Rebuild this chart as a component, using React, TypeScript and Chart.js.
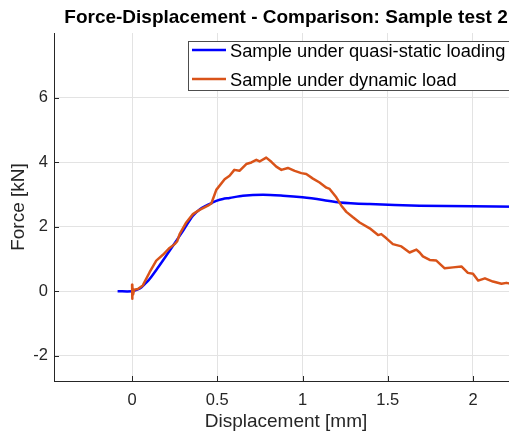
import React, { useEffect, useRef } from "react";
import { Chart, registerables } from "chart.js";

Chart.register(...registerables);

const titleText = "Force-Displacement - Comparison: Sample test 2";
const seriesNames = ["Sample under quasi-static loading", "Sample under dynamic load"];
const seriesColors = ["#0000FF", "#D95319"];
const xLabel = "Displacement [mm]";
const yLabel = "Force [kN]";

const xTicks = [0, 0.5, 1, 1.5, 2];
const yTicks = [-2, 0, 2, 4, 6];
const xLimits = [-0.458, 2.264];
const yLimits = [-2.78, 8];

const quasiX = [-0.085, 0, 0.03, 0.054, 0.08, 0.103, 0.15, 0.2, 0.24, 0.3, 0.357, 0.4, 0.435, 0.47, 0.494, 0.533, 0.572, 0.65, 0.768, 0.885, 1.0, 1.12, 1.218, 1.394, 1.687, 2.0, 2.27];
const quasiY = [0, 0, 0.05, 0.12, 0.25, 0.38, 0.72, 1.1, 1.41, 1.88, 2.34, 2.55, 2.65, 2.74, 2.8, 2.86, 2.89, 2.96, 2.99, 2.96, 2.91, 2.83, 2.75, 2.7, 2.65, 2.63, 2.62];

const dynX = [0, 0.0, 0.003, 0.006, 0.012, 0.034, 0.063, 0.103, 0.142, 0.181, 0.22, 0.25, 0.265, 0.279, 0.318, 0.357, 0.396, 0.445, 0.465, 0.494, 0.543, 0.572, 0.6, 0.63, 0.67, 0.7, 0.729, 0.748, 0.787, 0.817, 0.846, 0.876, 0.914, 0.954, 0.993, 1.022, 1.061, 1.1, 1.14, 1.159, 1.198, 1.228, 1.257, 1.296, 1.335, 1.394, 1.443, 1.462, 1.492, 1.53, 1.58, 1.628, 1.668, 1.687, 1.706, 1.746, 1.785, 1.834, 1.883, 1.932, 1.97, 2.0, 2.03, 2.07, 2.117, 2.167, 2.196, 2.25];
const dynY = [0.2, -0.23, 0.15, -0.1, 0.05, 0.07, 0.18, 0.59, 0.95, 1.13, 1.34, 1.46, 1.55, 1.77, 2.13, 2.39, 2.52, 2.65, 2.72, 3.14, 3.47, 3.58, 3.76, 3.73, 3.94, 3.99, 4.07, 4.02, 4.14, 4.01, 3.86, 3.76, 3.82, 3.73, 3.66, 3.63, 3.49, 3.37, 3.21, 3.17, 2.91, 2.65, 2.46, 2.29, 2.13, 1.95, 1.74, 1.77, 1.64, 1.46, 1.39, 1.2, 1.29, 1.2, 1.08, 0.97, 0.95, 0.71, 0.74, 0.77, 0.57, 0.54, 0.33, 0.4, 0.3, 0.23, 0.26, 0.2];

const FONT = "'Liberation Sans', Arial, Helvetica, sans-serif";
const AXIS_COLOR = "#262626";
const GRID_COLOR = "#e3e3e3";

const overlayPlugin = {
  id: "overlay",
  afterDraw(chart: any) {
    const ctx = chart.ctx as CanvasRenderingContext2D;
    const { left, right, bottom } = chart.chartArea;
    const xs = chart.scales.x;
    const ys = chart.scales.y;
    ctx.save();
    // inward tick marks
    ctx.strokeStyle = AXIS_COLOR;
    ctx.lineWidth = 1;
    ctx.beginPath();
    xTicks.forEach((v) => {
      const px = Math.round(xs.getPixelForValue(v)) + 0.5;
      ctx.moveTo(px, bottom);
      ctx.lineTo(px, bottom - 5);
    });
    yTicks.forEach((v) => {
      const py = Math.round(ys.getPixelForValue(v)) + 0.5;
      ctx.moveTo(left, py);
      ctx.lineTo(left + 5, py);
    });
    ctx.stroke();

    // title
    ctx.font = `bold 19px ${FONT}`;
    ctx.fillStyle = "#000000";
    ctx.textAlign = "center";
    ctx.textBaseline = "alphabetic";
    ctx.fillText(titleText, (left + right) / 2, 23);

    // legend
    const bx = 188.5, by = 41.5, bw = 330, bh = 49;
    ctx.fillStyle = "#ffffff";
    ctx.fillRect(bx, by, bw, bh);
    ctx.strokeStyle = "#4d4d4d";
    ctx.lineWidth = 1;
    ctx.strokeRect(bx, by, bw, bh);
    ctx.font = `18.3px ${FONT}`;
    ctx.textAlign = "left";
    const rows = [50, 79];
    rows.forEach((ry, i) => {
      ctx.strokeStyle = seriesColors[i];
      ctx.lineWidth = 2.5;
      ctx.beginPath();
      ctx.moveTo(192, ry);
      ctx.lineTo(226, ry);
      ctx.stroke();
      ctx.fillStyle = "#000000";
      ctx.fillText(seriesNames[i], 230, ry + 6.5);
    });
    ctx.restore();
  },
};

export default function App() {
  const ref = useRef<HTMLCanvasElement | null>(null);
  useEffect(() => {
    if (!ref.current) return;
    const chart = new Chart(ref.current, {
      type: "scatter",
      data: {
        datasets: [
          {
            label: seriesNames[0],
            data: quasiX.map((x, i) => ({ x, y: quasiY[i] })),
            showLine: true,
            borderColor: seriesColors[0],
            backgroundColor: seriesColors[0],
            borderWidth: 2.5,
            pointRadius: 0,
            tension: 0.3,
            order: 1,
          },
          {
            label: seriesNames[1],
            data: dynX.map((x, i) => ({ x, y: dynY[i] })),
            showLine: true,
            borderColor: seriesColors[1],
            backgroundColor: seriesColors[1],
            borderWidth: 2.5,
            pointRadius: 0,
            tension: 0,
            borderJoinStyle: "round",
            borderCapStyle: "round",
            order: 0,
          },
        ],
      },
      options: {
        responsive: false,
        animation: false,
        devicePixelRatio: 1,
        layout: { padding: { top: 33, right: 12, left: 0, bottom: 0 } },
        plugins: {
          legend: { display: false },
          title: { display: false },
          tooltip: { enabled: false },
        },
        scales: {
          x: {
            type: "linear",
            min: xLimits[0],
            max: xLimits[1],
            afterFit: (s: any) => {
              s.height = 53;
            },
            afterBuildTicks: (s: any) => {
              s.ticks = xTicks.map((v) => ({ value: v }));
            },
            ticks: {
              autoSkip: false,
              maxRotation: 0,
              padding: 10,
              color: AXIS_COLOR,
              font: { size: 16.5, family: FONT },
              callback: (v: any) => String(v),
            },
            grid: { color: GRID_COLOR, drawTicks: false, lineWidth: 1 },
            border: { display: true, color: AXIS_COLOR, width: 1 },
            title: {
              display: true,
              text: xLabel,
              color: AXIS_COLOR,
              font: { size: 19, family: FONT },
              padding: { top: 0, bottom: 1 },
            },
          },
          y: {
            type: "linear",
            min: yLimits[0],
            max: yLimits[1],
            afterFit: (s: any) => {
              s.width = 54;
            },
            afterBuildTicks: (s: any) => {
              s.ticks = yTicks.map((v) => ({ value: v }));
            },
            ticks: {
              autoSkip: false,
              padding: 6,
              color: AXIS_COLOR,
              font: { size: 16.5, family: FONT },
              callback: (v: any) => String(v),
            },
            grid: { color: GRID_COLOR, drawTicks: false, lineWidth: 1 },
            border: { display: true, color: AXIS_COLOR, width: 1 },
            title: {
              display: true,
              text: yLabel,
              color: AXIS_COLOR,
              font: { size: 19, family: FONT },
              padding: { top: 7, bottom: 0 },
            },
          },
        },
      },
      plugins: [overlayPlugin],
    });
    return () => chart.destroy();
  }, []);

  return (
    <div
      style={{
        position: "fixed",
        left: 0,
        top: 0,
        width: 509,
        height: 434,
        overflow: "hidden",
        background: "#ffffff",
      }}
    >
      <canvas ref={ref} width={530} height={434} style={{ display: "block", width: 530, height: 434 }} />
    </div>
  );
}
